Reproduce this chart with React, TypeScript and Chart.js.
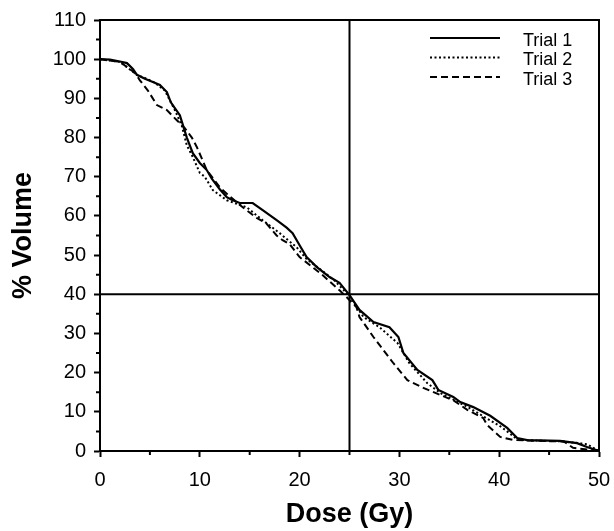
import React, { useEffect, useRef } from 'react';
import { Chart, registerables } from 'chart.js';

Chart.register(...registerables);

// ---- data ----
const trial1Dose = [0, 1, 2, 2.7, 3.3, 3.7, 4.5, 5.3, 6, 6.7, 7.1, 7.5, 8, 8.7, 9.3, 10, 10.7, 11.2, 12, 12.7, 13.3, 14, 15.3, 16.3, 17.7, 18.7, 19.3, 20, 20.7, 21.7, 23, 24, 25, 26, 27.4, 29, 29.9, 30.4, 31.8, 33.3, 33.9, 35.4, 36.1, 37.4, 39.1, 40.8, 41.8, 42.8, 46.1, 47.8, 48.8, 50];
const trial1Volume = [100, 99.9, 99.4, 99, 97.5, 96, 95, 94.2, 93.4, 91.6, 89, 87.5, 85.7, 80, 76, 73.5, 71.7, 69.5, 66.8, 64.8, 64, 63.3, 63.3, 61.5, 58.9, 57, 55.6, 52.5, 49.5, 47, 44.4, 42.9, 39.8, 36, 32.9, 31.6, 29.1, 25, 20.7, 18.1, 15.6, 13.8, 12.5, 11.2, 9, 5.9, 3.3, 2.8, 2.6, 2, 1, 0];

const trial2Dose = [0, 2, 3.7, 4.5, 5.5, 6.5, 7.5, 8.2, 8.7, 9.3, 10, 10.5, 11.3, 12.7, 14.7, 16.3, 18, 19.7, 20.7, 22, 23.5, 25, 26.4, 28, 29.8, 31, 32.8, 34.1, 35.5, 37, 38.5, 40, 40.8, 41.8, 43, 46, 48, 48.8, 50];
const trial2Volume = [100, 99.3, 96, 95.2, 94, 92, 87, 83, 78, 75, 71, 70, 66.6, 64, 62.2, 58.9, 55.6, 52, 49, 46.5, 43.5, 39.5, 34.2, 31.6, 27.6, 22.4, 17.3, 14.8, 13, 11, 8.7, 6.5, 5, 3, 2.7, 2.5, 2, 1.7, 0];

const trial3Dose = [0, 2, 3.5, 4, 4.8, 5.7, 6.7, 7.7, 8.5, 9.2, 9.7, 10.7, 12, 13, 14.3, 15.7, 16.7, 17.7, 18.3, 19, 20, 21.5, 22.3, 24, 24.7, 25.7, 26, 27.4, 29.4, 30.8, 32.4, 34.1, 35.5, 36.8, 38.4, 38.8, 40.1, 41.4, 44, 46.5, 47.4, 50];
const trial3Volume = [100, 99.3, 96.5, 94.6, 92, 88.3, 87, 84.4, 82.4, 80, 77.6, 71.7, 67.3, 65, 62.2, 59.5, 58, 55, 53.8, 52.8, 49.5, 46.5, 44.9, 41, 39.3, 36.7, 34.2, 29.1, 22.4, 18.1, 16.1, 14.3, 12.8, 10.5, 8.4, 6.6, 3.6, 2.8, 2.6, 2.4, 0.8, 0];

const trialLabels = ['Trial 1', 'Trial 2', 'Trial 3'];
const refDose = 25;
const refVolume = 40;
const xMin = 0;
const xMax = 50;
const yMin = 0;
const yMax = 110;
const majorStep = 10;
const minorStep = 5;
const xTitle = 'Dose (Gy)';
const yTitle = '% Volume';

const FONT = "'Liberation Sans', Arial, Helvetica, sans-serif";

const pts = (xs: number[], ys: number[]) => xs.map((x, i) => ({ x, y: ys[i] }));

const framePlugin = {
  id: 'frame',
  afterDraw(chart: any) {
    const { ctx, chartArea } = chart;
    const xs = chart.scales.x;
    const ys = chart.scales.y;
    ctx.save();
    ctx.strokeStyle = '#000';
    ctx.lineWidth = 2;
    ctx.setLineDash([]);
    ctx.strokeRect(chartArea.left, chartArea.top, chartArea.right - chartArea.left, chartArea.bottom - chartArea.top);
    // minor ticks
    ctx.beginPath();
    for (let v = xMin + minorStep; v < xMax; v += majorStep) {
      const px = xs.getPixelForValue(v);
      ctx.moveTo(px, chartArea.bottom);
      ctx.lineTo(px, chartArea.bottom + 4);
    }
    for (let v = yMin + minorStep; v < yMax; v += majorStep) {
      const py = ys.getPixelForValue(v);
      ctx.moveTo(chartArea.left, py);
      ctx.lineTo(chartArea.left - 4, py);
    }
    ctx.stroke();
    // legend
    const items = chart.data.datasets.filter((d: any) => trialLabels.includes(d.label));
    ctx.font = `18px ${FONT}`;
    ctx.textBaseline = 'middle';
    ctx.textAlign = 'left';
    ctx.fillStyle = '#000';
    items.forEach((d: any, i: number) => {
      const y = chartArea.top + 18 + i * 19.5;
      ctx.beginPath();
      ctx.lineWidth = d.borderWidth;
      ctx.setLineDash(d.borderDash || []);
      ctx.moveTo(chartArea.right - 169, y);
      ctx.lineTo(chartArea.right - 99, y);
      ctx.stroke();
      ctx.fillText(d.label, chartArea.right - 76, y + 3);
    });
    ctx.restore();
  },
};

export default function App() {
  const ref = useRef<HTMLCanvasElement | null>(null);
  useEffect(() => {
    if (!ref.current) return;
    const chart = new Chart(ref.current, {
      type: 'scatter',
      data: {
        datasets: [
          { label: trialLabels[0], data: pts(trial1Dose, trial1Volume), showLine: true, borderColor: '#000', borderWidth: 2.2, borderDash: [], pointRadius: 0 },
          { label: trialLabels[1], data: pts(trial2Dose, trial2Volume), showLine: true, borderColor: '#000', borderWidth: 2, borderDash: [2, 2.5], pointRadius: 0 },
          { label: trialLabels[2], data: pts(trial3Dose, trial3Volume), showLine: true, borderColor: '#000', borderWidth: 2, borderDash: [7, 4], pointRadius: 0 },
          { label: 'refX', data: [{ x: refDose, y: yMin }, { x: refDose, y: yMax }], showLine: true, borderColor: '#000', borderWidth: 2, pointRadius: 0 },
          { label: 'refY', data: [{ x: xMin, y: refVolume }, { x: xMax, y: refVolume }], showLine: true, borderColor: '#000', borderWidth: 2, pointRadius: 0 },
        ],
      },
      options: {
        responsive: false,
        animation: false,
        layout: { padding: { top: 20, right: 15, left: 0, bottom: 0 } },
        plugins: { legend: { display: false }, tooltip: { enabled: false } },
        scales: {
          x: {
            type: 'linear',
            min: xMin,
            max: xMax,
            afterFit: (s: any) => { s.height = 80; s.paddingLeft = 0; s.paddingRight = 0; },
            ticks: { stepSize: majorStep, color: '#000', padding: 11, font: { family: FONT, size: 20 } },
            grid: { drawOnChartArea: false, drawTicks: true, tickLength: 6, tickWidth: 2, tickColor: '#000', color: '#000' },
            border: { display: true, color: '#000', width: 2 },
            title: { display: true, text: xTitle, color: '#000', padding: { top: 0, bottom: 0 }, font: { family: FONT, size: 27, weight: 'bold' } },
          },
          y: {
            type: 'linear',
            min: yMin,
            max: yMax,
            afterFit: (s: any) => { s.width = 100; s.paddingTop = 0; s.paddingBottom = 0; },
            ticks: { stepSize: majorStep, color: '#000', padding: 8, font: { family: FONT, size: 20 } },
            grid: { drawOnChartArea: false, drawTicks: true, tickLength: 6, tickWidth: 2, tickColor: '#000', color: '#000' },
            border: { display: true, color: '#000', width: 2 },
            title: { display: true, text: yTitle, color: '#000', padding: { top: 7, bottom: 0 }, font: { family: FONT, size: 27, weight: 'bold' } },
          },
        },
      },
      plugins: [framePlugin],
    } as any);
    return () => chart.destroy();
  }, []);
  return (
    <div style={{ position: 'fixed', left: 0, top: 0, width: 614, height: 531, background: '#fff' }}>
      <canvas ref={ref} width={614} height={531} style={{ display: 'block' }} />
    </div>
  );
}
